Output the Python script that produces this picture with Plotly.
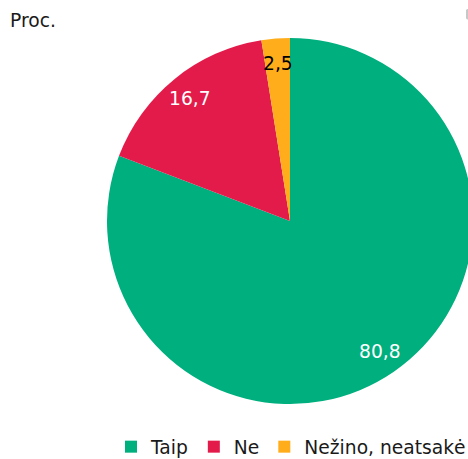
import math
import plotly.graph_objects as go

labels = ["Taip", "Ne", "Nežino, neatsakė"]
values = [80.8, 16.7, 2.5]
colors = ["#00AF7E", "#E31B4B", "#FFAD1B"]
text_colors = ["white", "white", "black"]
y_title = "Proc."

W, H = 520, 459
FONT = "DejaVu Sans, Verdana, sans-serif"
FS = 18.7

cx, cy, R = 290, 221, 183
label_r = 0.865 * R

fig = go.Figure(go.Pie(
    labels=labels,
    values=values,
    sort=False,
    direction="clockwise",
    rotation=0,
    marker=dict(colors=colors, line=dict(width=0)),
    textinfo="none",
    hoverinfo="label+value",
    domain=dict(x=[(cx - R) / W, (cx + R) / W],
                y=[(H - (cy + R)) / H, (H - (cy - R)) / H]),
))

# value labels placed at the middle angle of each slice
total = sum(values)
annotations = []
cum = 0.0
for v, tc in zip(values, text_colors):
    mid = (cum + v / 2) / total * 2 * math.pi
    cum += v
    px = cx + label_r * math.sin(mid)
    py = cy - label_r * math.cos(mid)
    annotations.append(dict(
        text=f"{v:.1f}".replace(".", ","), x=px / W, y=1 - py / H,
        xref="paper", yref="paper", xanchor="center", yanchor="middle",
        showarrow=False, font=dict(size=FS, family=FONT, color=tc)))

annotations.append(dict(text=y_title, x=8 / W, y=1 - 8 / H, xref="paper", yref="paper",
                        xanchor="left", yanchor="top", showarrow=False,
                        font=dict(size=FS, family=FONT, color="#1a1a1a")))

fig.update_layout(
    width=W, height=H,
    margin=dict(l=0, r=0, t=0, b=0, autoexpand=False),
    paper_bgcolor="white",
    separators=", ",
    font=dict(family=FONT, size=FS, color="#1a1a1a"),
    showlegend=True,
    legend=dict(orientation="h", x=111 / W, xanchor="left",
                y=(H - 447) / H, yanchor="middle",
                font=dict(size=FS, family=FONT, color="#1a1a1a"),
                traceorder="normal"),
    annotations=annotations,
)

fig.write_html("out.html",
               post_script="document.body.style.margin='0';document.body.style.overflow='hidden';")
